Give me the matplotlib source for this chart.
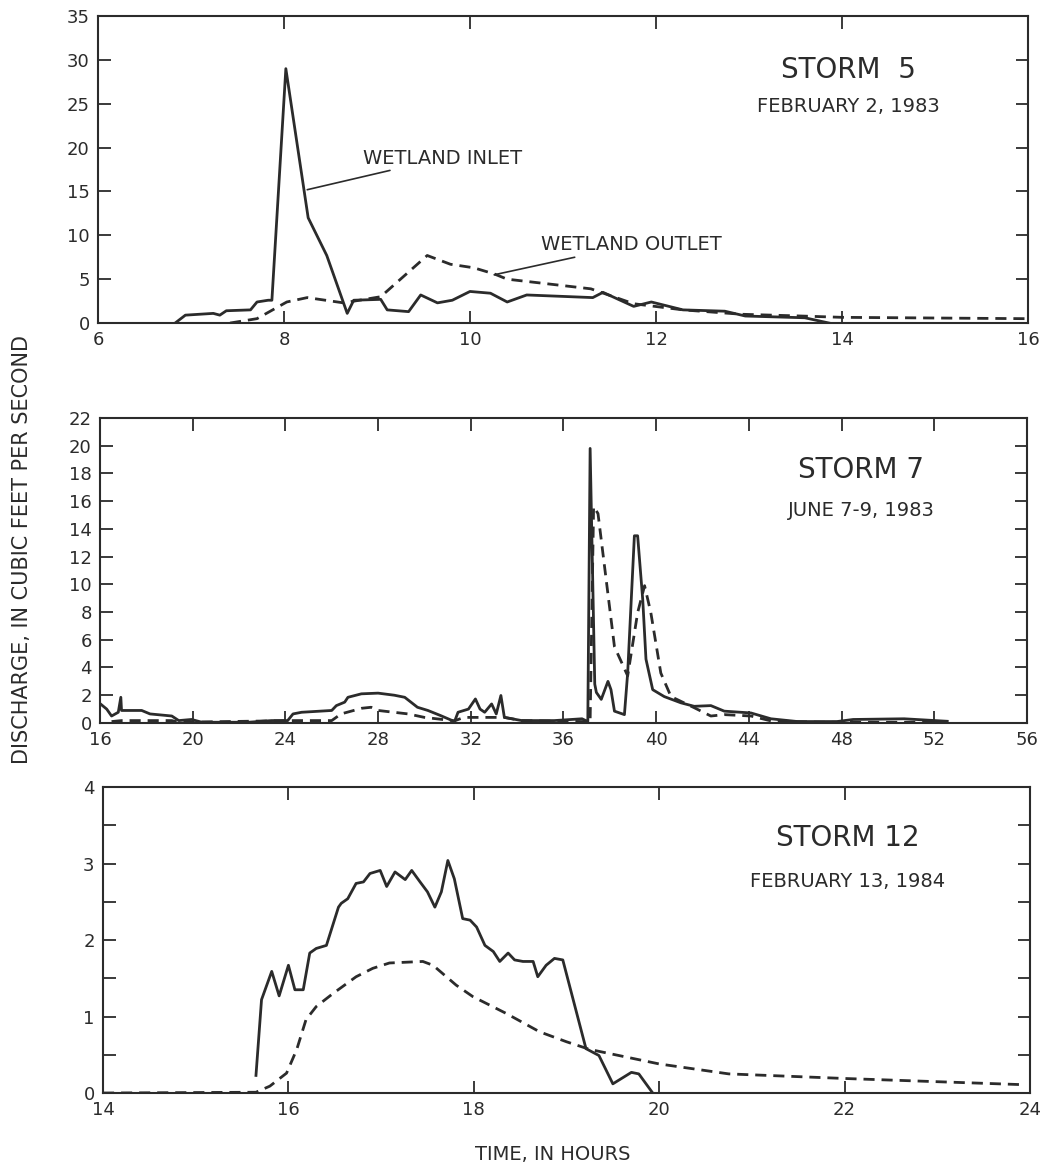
import matplotlib
matplotlib.use("Agg")
import matplotlib.pyplot as plt
from matplotlib.ticker import MultipleLocator

INK = "#2b2b2b"

# Storm 5, February 2, 1983
storm5_inlet_hours = [6.83, 6.94, 7.24, 7.31, 7.38, 7.64, 7.71, 7.83, 7.87, 8.02, 8.26, 8.46,
                      8.68, 8.75, 9.04, 9.11, 9.34, 9.47, 9.65, 9.81, 10.0, 10.22, 10.40,
                      10.61, 11.32, 11.43, 11.76, 11.95, 12.29, 12.74, 12.96, 13.6, 13.86]
storm5_inlet_cfs = [0.0, 0.9, 1.1, 0.9, 1.4, 1.5, 2.4, 2.6, 2.6, 29.0, 12.0, 7.7,
                    1.1, 2.6, 2.7, 1.5, 1.3, 3.2, 2.3, 2.6, 3.6, 3.4, 2.4,
                    3.2, 2.9, 3.5, 1.9, 2.4, 1.5, 1.35, 0.8, 0.6, 0.0]
storm5_outlet_hours = [7.42, 7.71, 8.03, 8.25, 8.64, 9.04, 9.54, 9.79, 10.04, 10.26, 10.40,
                       11.30, 11.76, 12.29, 12.92, 13.56, 14.0, 15.95, 16.0]
storm5_outlet_cfs = [0.0, 0.5, 2.4, 2.9, 2.3, 3.0, 7.7, 6.7, 6.3, 5.6, 5.0,
                     3.9, 2.2, 1.5, 1.0, 0.8, 0.65, 0.5, 0.5]

# Storm 7, June 7-9, 1983
storm7_inlet_hours = [16.0, 16.29, 16.5, 16.79, 16.9, 16.93, 17.8, 18.16, 19.1, 19.4, 19.95,
                      20.4, 22.4, 23.4, 24.1, 24.33, 24.7, 26.0, 26.2, 26.56, 26.7, 27.28,
                      28.0, 28.7, 29.15, 29.7, 30.15, 30.7, 31.3, 31.45, 31.9, 32.2, 32.4,
                      32.6, 32.9, 33.1, 33.3, 33.45, 34.2, 35.6, 36.8, 37.05, 37.15, 37.35,
                      37.42, 37.63, 37.92, 38.05, 38.2, 38.63, 38.77, 39.06, 39.2, 39.42,
                      39.56, 39.85, 40.35, 41.07, 41.64, 42.36, 42.94, 44.09, 44.95, 46.1,
                      47.8, 48.5, 50.7, 52.56]
storm7_inlet_cfs = [1.4, 1.0, 0.5, 0.77, 1.85, 0.9, 0.9, 0.65, 0.5, 0.17, 0.25,
                    0.05, 0.05, 0.17, 0.17, 0.65, 0.77, 0.9, 1.25, 1.5, 1.85, 2.1,
                    2.15, 2.0, 1.85, 1.13, 0.9, 0.53, 0.1, 0.77, 1.0, 1.73, 1.0,
                    0.77, 1.37, 0.65, 1.98, 0.4, 0.17, 0.17, 0.3, 0.1, 19.8, 2.8,
                    2.2, 1.7, 3.0, 2.4, 0.85, 0.6, 3.6, 13.5, 13.5, 8.9,
                    4.6, 2.4, 1.9, 1.45, 1.2, 1.25, 0.85, 0.72, 0.3, 0.1,
                    0.1, 0.25, 0.3, 0.12]
storm7_outlet_hours = [16.5, 16.93, 19.1, 19.4, 24.4, 26.0, 26.4, 27.3, 27.7, 28.0, 29.3,
                       30.0, 31.3, 31.7, 33.45, 34.2, 36.8, 37.15, 37.3, 37.49, 38.2,
                       38.77, 39.2, 39.5, 39.77, 40.2, 40.64, 41.64, 42.36, 42.94, 44.09,
                       44.95, 47.1, 52.5]
storm7_outlet_cfs = [0.1, 0.17, 0.17, 0.05, 0.17, 0.17, 0.65, 1.06, 1.13, 0.9, 0.65,
                     0.4, 0.15, 0.4, 0.4, 0.17, 0.1, 0.1, 15.6, 15.1, 5.5,
                     3.4, 7.95, 9.9, 7.95, 3.6, 1.9, 1.1, 0.5, 0.6, 0.5,
                     0.15, 0.05, 0.05]

# Storm 12, February 13, 1984
storm12_inlet_hours = [15.65, 15.71, 15.82, 15.9, 16.0, 16.07, 16.16, 16.23, 16.3, 16.41,
                       16.54, 16.57, 16.64, 16.73, 16.81, 16.88, 16.99, 17.06, 17.15,
                       17.26, 17.33, 17.42, 17.5, 17.58, 17.65, 17.72, 17.79, 17.88,
                       17.96, 18.03, 18.12, 18.21, 18.28, 18.37, 18.44, 18.53, 18.64,
                       18.69, 18.78, 18.87, 18.96, 19.21, 19.35, 19.5, 19.7, 19.78, 19.93]
storm12_inlet_cfs = [0.23, 1.22, 1.59, 1.27, 1.67, 1.35, 1.35, 1.83, 1.89, 1.93,
                     2.43, 2.48, 2.54, 2.74, 2.76, 2.87, 2.91, 2.7, 2.89,
                     2.79, 2.91, 2.76, 2.63, 2.43, 2.63, 3.04, 2.8, 2.28,
                     2.26, 2.17, 1.93, 1.85, 1.72, 1.83, 1.74, 1.72, 1.72,
                     1.52, 1.67, 1.76, 1.74, 0.58, 0.49, 0.12, 0.27, 0.25, 0.0]
storm12_outlet_hours = [14.0, 15.65, 15.8, 15.98, 16.09, 16.19, 16.3, 16.48, 16.73, 16.91,
                        17.09, 17.45, 17.56, 17.81, 17.99, 18.35, 18.71, 19.0, 19.25,
                        20.0, 20.75, 22.0, 23.9]
storm12_outlet_cfs = [0.0, 0.01, 0.09, 0.26, 0.57, 0.96, 1.13, 1.3, 1.52, 1.63,
                      1.7, 1.72, 1.67, 1.41, 1.26, 1.04, 0.8, 0.67, 0.57,
                      0.38, 0.25, 0.19, 0.11]

plt.rcParams["font.family"] = ["DejaVu Sans"]

fig = plt.figure(figsize=(10.49, 11.7), dpi=100)
panels = [
    fig.add_axes([0.0934, 0.7239, 0.8866, 0.2624]),
    fig.add_axes([0.0953, 0.3821, 0.8837, 0.2607]),
    fig.add_axes([0.0982, 0.0658, 0.8837, 0.2615]),
]

line_kw = dict(color=INK, linewidth=2.0)
dash_kw = dict(color=INK, linewidth=2.0, linestyle=(0, (4, 2.5)))

series = [
    (storm5_inlet_hours, storm5_inlet_cfs, storm5_outlet_hours, storm5_outlet_cfs),
    (storm7_inlet_hours, storm7_inlet_cfs, storm7_outlet_hours, storm7_outlet_cfs),
    (storm12_inlet_hours, storm12_inlet_cfs, storm12_outlet_hours, storm12_outlet_cfs),
]
limits = [((6, 16), (0, 35), 2, 5, None), ((16, 56), (0, 22), 4, 2, None), ((14, 24), (0, 4), 2, 1, 0.5)]
titles = [("STORM  5", "FEBRUARY 2, 1983"), ("STORM 7", "JUNE 7-9, 1983"), ("STORM 12", "FEBRUARY 13, 1984")]
title_pos = [(0.807, 0.824, 0.704), (0.821, 0.83, 0.698), (0.803, 0.833, 0.69)]

for ax, (ih, iq, oh, oq), (xl, yl, xs, ys, ym), (t1, t2), (tx, ty1, ty2) in zip(
        panels, series, limits, titles, title_pos):
    ax.plot(oh, oq, **dash_kw)
    ax.plot(ih, iq, **line_kw)
    ax.set_xlim(*xl)
    ax.set_ylim(*yl)
    ax.xaxis.set_major_locator(MultipleLocator(xs))
    ax.yaxis.set_major_locator(MultipleLocator(ys))
    if ym:
        ax.yaxis.set_minor_locator(MultipleLocator(ym))
        ax.tick_params(which="minor", direction="in", left=True, right=True,
                       length=9, width=1.3, color=INK)
    ax.tick_params(which="major", direction="in", top=True, right=True, length=9,
                   width=1.3, color=INK, labelcolor=INK, labelsize=13, pad=6)
    for spine in ax.spines.values():
        spine.set_linewidth(1.5)
        spine.set_color(INK)
    ax.text(tx, ty1, t1, transform=ax.transAxes, ha="center", va="center",
            fontsize=20, color=INK)
    ax.text(tx, ty2, t2, transform=ax.transAxes, ha="center", va="center",
            fontsize=14, color=INK)

arrow = dict(arrowstyle="-", color=INK, linewidth=1.2, shrinkA=0, shrinkB=0)
panels[0].annotate("WETLAND INLET", xy=(8.25, 15.2), xytext=(8.85, 18.8),
                   ha="left", va="center", fontsize=14, color=INK, arrowprops=arrow)
panels[0].annotate("WETLAND OUTLET", xy=(10.26, 5.5), xytext=(10.76, 8.9),
                   ha="left", va="center", fontsize=14, color=INK, arrowprops=arrow)

fig.text(0.021, 0.53, "DISCHARGE, IN CUBIC FEET PER SECOND", rotation=90,
         ha="center", va="center", fontsize=15, color=INK)
fig.text(0.527, 0.013, "TIME, IN HOURS", ha="center", va="center",
         fontsize=14, color=INK)

fig.savefig("out.png", dpi=100, facecolor="white")
